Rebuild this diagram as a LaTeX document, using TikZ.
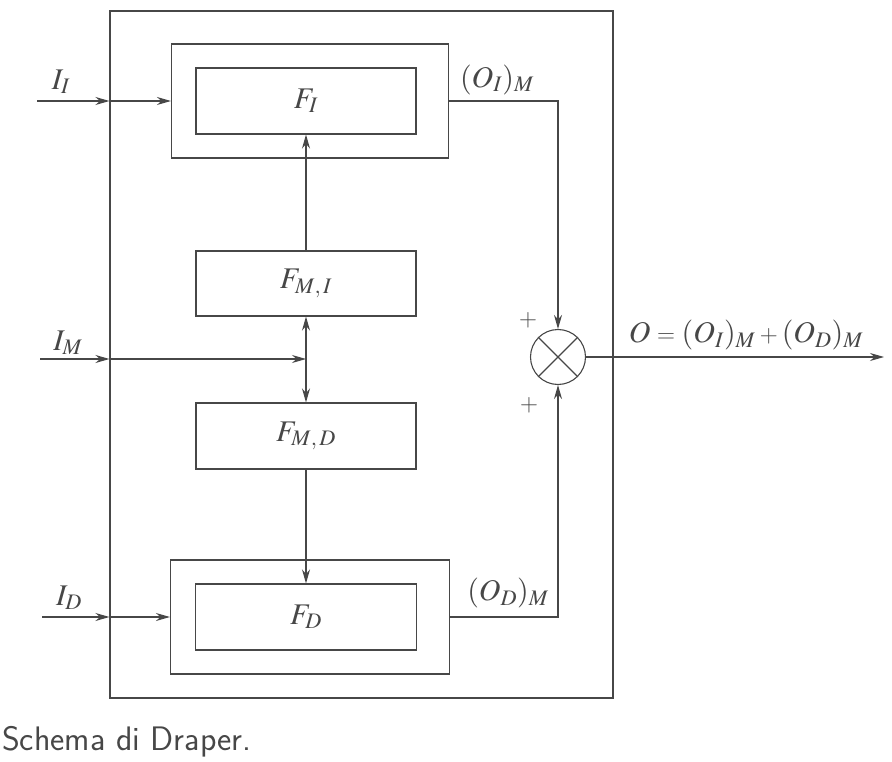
\documentclass[tikz,border=0pt]{standalone}
\usepackage{mathptmx}
\newcommand{\cmsym}[1]{\hbox{\fontencoding{OT1}\fontfamily{lmr}\fontseries{m}\fontshape{n}\selectfont #1}}
\newcommand{\cmeq}{\mathrel{\cmsym{=}}}
\newcommand{\cmplus}{\mathbin{\cmsym{+}}}
\usetikzlibrary{arrows.meta}
\definecolor{ink}{HTML}{474747}
\begin{document}
\begin{tikzpicture}[x=1pt,y=-1pt]
\tikzset{
 ln/.style={draw=ink, line width=1.1pt},
 tip/.tip={Stealth[length=14pt,width=8pt,inset=4.5pt]},
 arr/.style={ln, -tip},
 box/.style={draw=ink, line width=1.1pt, rectangle, inner sep=0pt, text=ink},
 lbl/.style={text=ink, inner sep=0pt, font=\fontsize{30}{34}\selectfont},
}
\useasboundingbox (0,0) rectangle (892,762);
% boxes
\node[box, minimum width=503pt, minimum height=687pt] (outer) at (361.5,354.5) {};
\node[box, minimum width=277pt, minimum height=114pt] (fiout) at (310,101) {};
\node[box, lbl, minimum width=220pt, minimum height=66pt] (fiin) at (306,101) {$F_I$};
\node[box, lbl, minimum width=220pt, minimum height=65pt] (fmi) at (306,283.5) {$F_{M,\,I}$};
\node[box, lbl, minimum width=220pt, minimum height=66pt] (fmd) at (306,436) {$F_{M,\,D}$};
\node[box, minimum width=279pt, minimum height=114pt] (fdout) at (310,617) {};
\node[box, lbl, minimum width=221pt, minimum height=66pt] (fdin) at (306,617) {$F_D$};
% summing junction
\node[circle, draw=ink, line width=1.1pt, minimum size=55pt, inner sep=0pt] (sum) at (558,357) {};
\draw[ln] (sum.north west) -- (sum.south east) (sum.north east) -- (sum.south west);
% inputs
\coordinate (inI) at (37,101);
\coordinate (inM) at (40,359);
\coordinate (inD) at (42,617);
\draw[arr] (inI) -- (inI -| outer.west);
\draw[arr] (inI -| outer.west) -- (fiout.west);
\draw[arr] (inM) -- (inM -| outer.west);
\draw[arr] (inM -| outer.west) -- (inM -| fmi.south);
\draw[arr] (inD) -- (inD -| outer.west);
\draw[arr] (inD -| outer.west) -- (fdout.west);
% internal connections
\draw[ln, tip-tip] (fmi.south) -- (fmd.north);
\draw[arr] (fmi.north) -- (fiin.south);
\draw[arr] (fmd.south) -- (fdin.north);
\draw[arr] (fiout.east) -| (sum.north);
\draw[arr] (fdout.east) -| (sum.south);
\coordinate (outO) at (884,357);
\draw[arr] (sum.east) -- (outO);
% labels
\node[lbl] (lII) at (61,82) {$I_I$};
\node[lbl] (lIM) at (68,343) {$I_M$};
\node[lbl] (lID) at (69,598) {$I_D$};
\node[lbl] (lOI) at (497,80) {$(O_I)_M$};
\node[lbl] (lOD) at (508,593) {$(O_D)_M$};
\node[lbl] (lO) at (746,335) {$O\cmeq(O_I)_M\cmplus(O_D)_M$};
\node[lbl] (p1) at (528,320) {\cmsym{+}};
\node[lbl] (p2) at (529,405) {\cmsym{+}};
\node[text=ink, anchor=west, inner sep=0pt, font=\sffamily\fontsize{34}{40}\selectfont] (cap) at (2,742) {Schema di Draper.};
\end{tikzpicture}
\end{document}
